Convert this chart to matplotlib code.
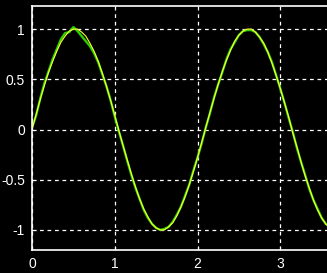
import matplotlib
matplotlib.use('Agg')
import matplotlib.pyplot as plt

# x samples (step 0.05)
x = [0.00, 0.05, 0.10, 0.15, 0.20, 0.25, 0.30, 0.35, 0.40, 0.45,
     0.50, 0.55, 0.60, 0.65, 0.70, 0.75, 0.80, 0.85, 0.90, 0.95,
     1.00, 1.05, 1.10, 1.15, 1.20, 1.25, 1.30, 1.35, 1.40, 1.45,
     1.50, 1.55, 1.60, 1.65, 1.70, 1.75, 1.80, 1.85, 1.90, 1.95,
     2.00, 2.05, 2.10, 2.15, 2.20, 2.25, 2.30, 2.35, 2.40, 2.45,
     2.50, 2.55, 2.60, 2.65, 2.70, 2.75, 2.80, 2.85, 2.90, 2.95,
     3.00, 3.05, 3.10, 3.15, 3.20, 3.25, 3.30, 3.35, 3.40, 3.45,
     3.50, 3.55, 3.60]

# smooth curve (yellow)
y_smooth = [0.00, 0.15, 0.30, 0.44, 0.57, 0.68, 0.78, 0.87, 0.93, 0.98,
            1.00, 1.00, 0.97, 0.93, 0.86, 0.78, 0.68, 0.56, 0.43, 0.29,
            0.14, -0.01, -0.16, -0.30, -0.44, -0.57, -0.69, -0.79, -0.87, -0.94,
            -0.98, -1.00, -1.00, -0.97, -0.93, -0.86, -0.77, -0.67, -0.55, -0.42,
            -0.28, -0.13, 0.02, 0.17, 0.31, 0.45, 0.58, 0.69, 0.79, 0.88,
            0.94, 0.98, 1.00, 1.00, 0.97, 0.92, 0.86, 0.77, 0.66, 0.54,
            0.41, 0.27, 0.13, -0.03, -0.17, -0.32, -0.46, -0.58, -0.70, -0.80,
            -0.88, -0.94, -0.98]

# measured curve (green), slightly noisy
y_noisy = [0.02, 0.14, 0.31, 0.46, 0.58, 0.70, 0.80, 0.90, 0.96, 0.97,
           1.02, 0.98, 0.93, 0.88, 0.83, 0.76, 0.67, 0.55, 0.43, 0.29,
           0.13, -0.02, -0.16, -0.31, -0.45, -0.58, -0.69, -0.80, -0.88, -0.94,
           -0.98, -1.00, -0.99, -0.97, -0.92, -0.85, -0.77, -0.66, -0.55, -0.41,
           -0.28, -0.14, 0.02, 0.16, 0.32, 0.45, 0.57, 0.70, 0.80, 0.87,
           0.94, 0.98, 0.99, 0.99, 0.97, 0.92, 0.85, 0.77, 0.67, 0.54,
           0.41, 0.27, 0.12, -0.02, -0.18, -0.32, -0.45, -0.59, -0.70, -0.79,
           -0.88, -0.94, -0.97]

xticks = [0, 1, 2, 3]
yticks = [-1, -0.5, 0, 0.5, 1]
ytick_labels = ['-1', '-0.5', '0', '0.5', '1']

plt.rcParams['font.family'] = ['Liberation Sans', 'DejaVu Sans']

fig = plt.figure(figsize=(3.27, 2.73), dpi=100, facecolor='black')
# axes runs past the right edge of the figure, as in the reference
ax = fig.add_axes([32 / 327, 23 / 273, 331 / 327, 244 / 273], facecolor='black')

ax.plot(x, y_noisy, color='#2ecc00', linewidth=1.7)
ax.plot(x, y_smooth, color='#ffff33', linewidth=0.8)

ax.set_xlim(0, 4)
ax.set_ylim(-1.2, 1.23)
ax.set_xticks(xticks)
ax.set_yticks(yticks)
ax.set_yticklabels(ytick_labels)
ax.grid(True, color='white', linestyle=(0, (3, 3)), linewidth=0.9)
ax.tick_params(colors='white', direction='in', length=3, labelsize=10, pad=5)
for s in ax.spines.values():
    s.set_color('white')
    s.set_linewidth(1.2)

fig.savefig('out.png', dpi=100, facecolor='black')
